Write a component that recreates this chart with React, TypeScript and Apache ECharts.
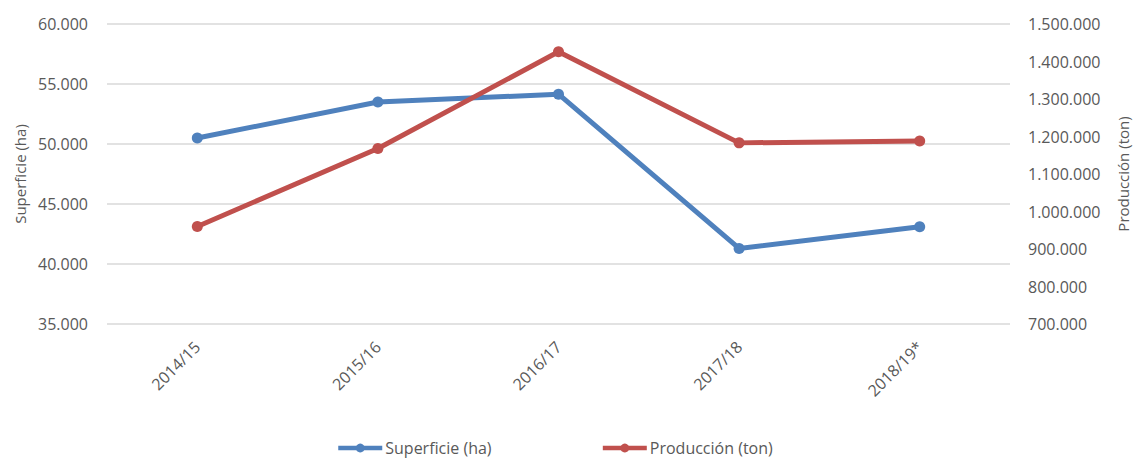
import React, { useEffect, useRef } from "react";
import * as echarts from "echarts";

const categories = ["2014/15", "2015/16", "2016/17", "2017/18", "2018/19*"];
const superficie = [50500, 53500, 54150, 41300, 43100];
const produccion = [960000, 1168000, 1426000, 1183000, 1188000];

const fmt = (v: number) => String(Math.round(v)).replace(/\B(?=(\d{3})+(?!\d))/g, ".");

const FONT = "'Open Sans', 'Noto Sans', sans-serif";
const TXT = "#595959";

export default function App() {
  const ref = useRef<HTMLDivElement>(null);
  useEffect(() => {
    if (!ref.current) return;
    const chart = echarts.init(ref.current, undefined, { renderer: "svg" });
    chart.setOption({
      animation: false,
      backgroundColor: "#ffffff",
      textStyle: { fontFamily: FONT },
      grid: { left: 107, right: 123, top: 24, bottom: 134 },
      legend: {
        left: 336,
        top: 440,
        padding: 0,
        itemWidth: 44,
        itemHeight: 11,
        itemGap: 109,
        lineStyle: { width: 4.5 },
        textStyle: { color: TXT, fontSize: 16, lineHeight: 16, fontFamily: FONT, padding: [0, 0, 0, -2] },
        data: ["Superficie (ha)", "Producción (ton)"],
      },
      xAxis: {
        type: "category",
        data: categories,
        boundaryGap: true,
        axisLine: { show: false },
        axisTick: { show: false },
        axisLabel: { rotate: 45, color: TXT, fontSize: 16, margin: 20, fontFamily: FONT },
      },
      yAxis: [
        {
          type: "value",
          min: 35000,
          max: 60000,
          interval: 5000,
          name: "Superficie (ha)",
          nameLocation: "middle",
          nameGap: 80,
          nameTextStyle: { color: TXT, fontSize: 15, fontFamily: FONT },
          axisLine: { show: false },
          axisTick: { show: false },
          axisLabel: { color: TXT, fontSize: 16, margin: 19, formatter: fmt, fontFamily: FONT },
          splitLine: { lineStyle: { color: "#D9D9D9", width: 1.5 } },
        },
        {
          type: "value",
          min: 700000,
          max: 1500000,
          interval: 100000,
          name: "Producción (ton)",
          nameLocation: "middle",
          nameGap: 105,
          nameRotate: 90,
          nameTextStyle: { color: TXT, fontSize: 15, fontFamily: FONT },
          axisLine: { show: false },
          axisTick: { show: false },
          axisLabel: { color: TXT, fontSize: 16, margin: 18, formatter: fmt, fontFamily: FONT },
          splitLine: { show: false },
        },
      ],
      series: [
        {
          name: "Superficie (ha)",
          type: "line",
          yAxisIndex: 0,
          data: superficie,
          symbol: "circle",
          symbolSize: 11,
          lineStyle: { color: "#4F81BD", width: 5 },
          itemStyle: { color: "#4F81BD" },
        },
        {
          name: "Producción (ton)",
          type: "line",
          yAxisIndex: 1,
          data: produccion,
          symbol: "circle",
          symbolSize: 11,
          lineStyle: { color: "#C0504D", width: 5 },
          itemStyle: { color: "#C0504D" },
        },
      ],
    });
    return () => chart.dispose();
  }, []);
  return (
    <div
      ref={ref}
      style={{ position: "fixed", left: 0, top: 0, width: 1138, height: 458 }}
    />
  );
}
